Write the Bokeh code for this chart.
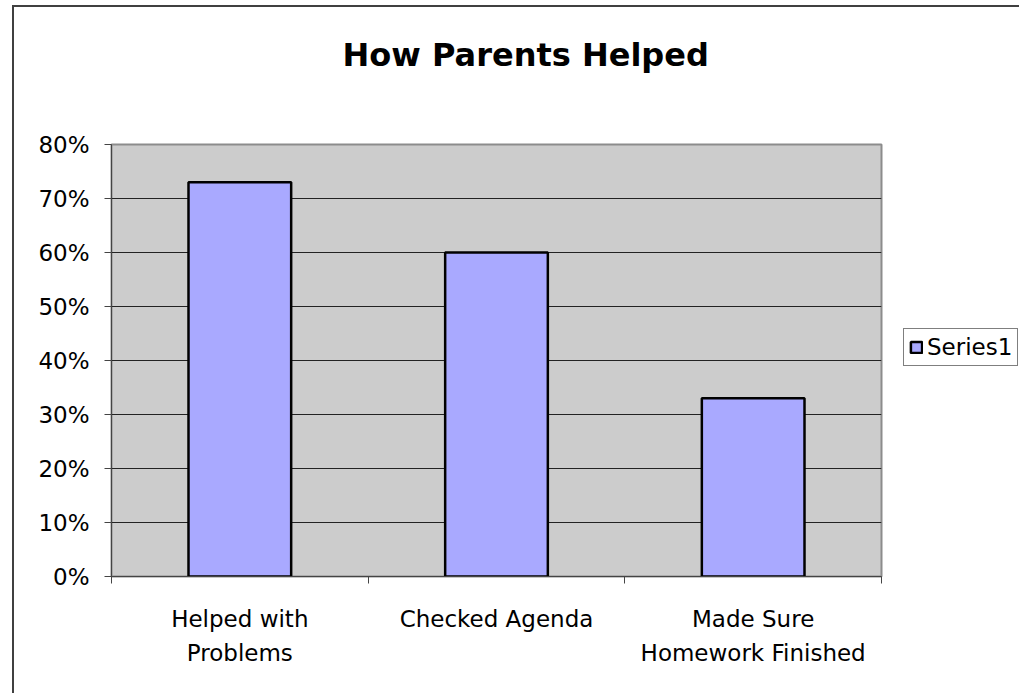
from bokeh.plotting import figure
from bokeh.models import (ColumnDataSource, FixedTicker, NumeralTickFormatter,
                          Legend, LegendItem, Title)
from bokeh.embed import file_html
from bokeh.resources import INLINE

categories = ["Helped with\nProblems", "Checked Agenda", "Made Sure\nHomework Finished"]
values = [0.73, 0.60, 0.33]
y_ticks = [0, 0.1, 0.2, 0.3, 0.4, 0.5, 0.6, 0.7, 0.8]
series_name = "Series1"
title_text = "How Parents Helped"

FONT = "DejaVu Sans"
BAR = "#A9A9FF"

xs = [i + 0.5 for i in range(len(categories))]
src = ColumnDataSource(dict(x=xs, top=values))

p = figure(frame_width=770, frame_height=432, x_range=(0, 3), y_range=(0, 0.8),
           output_backend="svg", toolbar_location=None,
           min_border_left=97, min_border_right=0,
           min_border_top=5, min_border_bottom=117,
           styles={"border-left": "2px solid #404040",
                   "border-top": "2px solid #404040",
                   "margin-left": "12px", "margin-top": "5px"})
p.title = None

r = p.vbar(x="x", top="top", width=0.4, bottom=0, source=src,
           fill_color=BAR, line_color="black", line_width=2.5)

p.background_fill_color = "#CCCCCC"
p.border_fill_color = "white"
p.outline_line_color = "#8C8C8C"
p.outline_line_width = 2

# grid
p.xgrid.visible = False
p.ygrid.ticker = FixedTicker(ticks=y_ticks)
p.ygrid.grid_line_color = "#222222"
p.ygrid.grid_line_width = 1

# y axis
p.yaxis.ticker = FixedTicker(ticks=y_ticks)
p.yaxis.formatter = NumeralTickFormatter(format="0%")
p.yaxis.major_tick_in = 0
p.yaxis.major_tick_out = 7
p.yaxis.minor_tick_out = 0
p.yaxis.minor_tick_in = 0
p.yaxis.axis_line_color = "#444444"
p.yaxis.major_tick_line_color = "#444444"
p.yaxis.major_label_text_font = FONT
p.yaxis.major_label_text_font_size = "23px"
p.yaxis.major_label_text_color = "black"
p.yaxis.major_label_standoff = 15

# x axis: ticks at category boundaries (minor), labels at centers
p.xaxis.ticker = FixedTicker(ticks=xs, minor_ticks=list(range(len(categories) + 1)))
p.xaxis.major_label_overrides = {x: c for x, c in zip(xs, categories)}
p.xaxis.major_tick_in = 0
p.xaxis.major_tick_out = 0
p.xaxis.minor_tick_in = 0
p.xaxis.minor_tick_out = 7
p.xaxis.minor_tick_line_color = "#444444"
p.xaxis.axis_line_color = "#444444"
p.xaxis.major_label_text_font = FONT
p.xaxis.major_label_text_font_size = "23px"
p.xaxis.major_label_text_color = "black"
p.xaxis.major_label_text_line_height = 1.33
p.xaxis.major_label_standoff = 22

# spacer between title and plot area, then the title
spacer = Title(text=" ", standoff=32, text_font=FONT, text_font_size="10px")
p.add_layout(spacer, "above")
t = Title(text=title_text, align="left", offset=231, standoff=52,
          text_font=FONT, text_font_size="32px", text_font_style="bold",
          text_color="black")
p.add_layout(t, "above")

# legend
legend = Legend(items=[LegendItem(label=series_name, renderers=[r])],
                location=(22, 210), orientation="vertical",
                label_text_font=FONT, label_text_font_size="23px",
                label_text_color="black", glyph_width=14, glyph_height=14,
                label_standoff=4, padding=5, spacing=0, margin=0,
                border_line_color="black", border_line_width=1,
                background_fill_color="white", background_fill_alpha=1)
p.add_layout(legend, "right")

open("out.html", "w").write(file_html(p, INLINE))
